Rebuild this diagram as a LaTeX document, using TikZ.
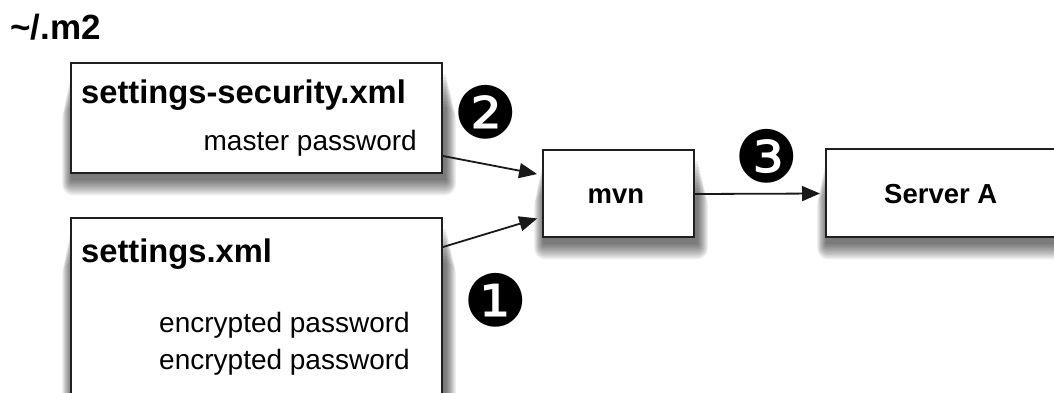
\documentclass[tikz,border=0pt]{standalone}
\usepackage{fontspec}
\setmainfont{Liberation Sans}
\newfontfamily\dingfont{DejaVu Sans}
\usetikzlibrary{arrows.meta,backgrounds}
\begin{document}
\begin{tikzpicture}[x=1pt,y=-1pt,
  box/.style={draw=black!88, line width=2pt, fill=white, rectangle, inner sep=0pt},
  shadowpart/.style={fill=black, opacity=0.06},
  arr/.style={line width=1.8pt, draw=black!90, -{Triangle[length=18pt,width=15pt]}},
  big/.style={font=\fontsize{32.7}{38}\selectfont\bfseries, inner sep=0pt},
  small/.style={font=\fontsize{28}{33}\selectfont, inner sep=0pt},
  mid/.style={font=\fontsize{27.5}{33}\selectfont\bfseries, inner sep=0pt},
  num/.style={font=\dingfont\fontsize{72}{80}\selectfont, inner sep=0pt}
]
\useasboundingbox (0,0) rectangle (1054,393);
\clip (0,0) rectangle (1054,393);
% boxes
\node[box, minimum width=371pt, minimum height=110pt] (b1) at (256.5,118) {};
\node[box, minimum width=371pt, minimum height=202pt] (b2) at (256.5,319) {};
\node[box, minimum width=151pt, minimum height=87pt] (mvn) at (618.5,193.5) {};
\node[box, minimum width=254pt, minimum height=88pt] (srv) at (953,193) {};
% soft shadows
\begin{pgfonlayer}{background}
\foreach \n in {b1,b2,mvn,srv}{
  \foreach \i in {0,...,11}{
    \fill[shadowpart, rounded corners=\i pt]
      ([shift={(1-\i*0.8,12+\i*3)}]\n.north west) rectangle
      ([shift={(3+\i*0.9,6+\i*1.4)}]\n.south east);
  }
}
\end{pgfonlayer}
% texts
\node[font=\fontsize{35}{40}\selectfont\bfseries, inner sep=0pt, anchor=base west] (m2) at (10,40) {\textasciitilde/.m2};
\node[big, anchor=base west] (t1) at (81,104) {settings-security.xml};
\node[small, anchor=base east] (p1) at (417,150) {master password};
\node[big, anchor=base west] (t2) at (81,262) {settings.xml};
\node[small, anchor=base east] (p2) at (410,332) {encrypted password};
\node[small, anchor=base east] (p3) at (410,369) {encrypted password};
\node[mid, anchor=base] (mv) at (616,203) {mvn};
\node[mid, anchor=base west] (sa) at (884,203) {Server A};
% numbers
\node[num] (n2) at (486,112) {❷};
\node[num] (n3) at (767,156) {❸};
\node[num] (n1) at (496,300) {❶};
% arrows
\draw[arr, shorten >=5pt] ([yshift=-38pt]b1.east) -- ([yshift=18.5pt]mvn.west);
\draw[arr, shorten >=5pt] ([yshift=72pt]b2.east) -- ([yshift=-23.5pt]mvn.west);
\draw[arr, shorten >=5pt] ([yshift=-0.5pt]mvn.east) -- ([yshift=-0.5pt]srv.west);
\end{tikzpicture}
\end{document}
